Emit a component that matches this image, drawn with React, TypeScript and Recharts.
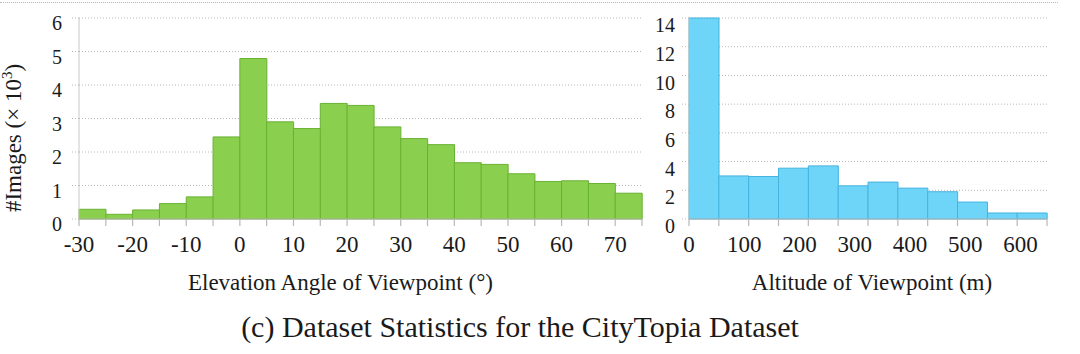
import { BarChart, Bar, XAxis, YAxis, CartesianGrid } from 'recharts';

// elevation angle histogram (bins of 5 degrees), counts in thousands
const elevStarts = [-30, -25, -20, -15, -10, -5, 0, 5, 10, 15, 20, 25, 30, 35, 40, 45, 50, 55, 60, 65, 70];
const elevCounts = [0.29, 0.14, 0.27, 0.46, 0.66, 2.45, 4.79, 2.9, 2.7, 3.45, 3.39, 2.75, 2.4, 2.22, 1.68, 1.63, 1.35, 1.12, 1.14, 1.06, 0.77];
const elevEdges = [-30, -25, -20, -15, -10, -5, 0, 5, 10, 15, 20, 25, 30, 35, 40, 45, 50, 55, 60, 65, 70, 75];
const elevLabels = [-30, -20, -10, 0, 10, 20, 30, 40, 50, 60, 70];
const elevYTicks = [0, 1, 2, 3, 4, 5, 6];

// altitude histogram (bins of ~54 m), counts in thousands
const altStarts = [0, 54, 108, 162, 216, 270, 324, 378, 432, 486, 540, 594];
const altCounts = [14, 3.0, 2.96, 3.54, 3.7, 2.31, 2.57, 2.15, 1.9, 1.18, 0.42, 0.42];
const altEdges = [0, 54, 108, 162, 216, 270, 324, 378, 432, 486, 540, 594, 648];
const altLabels = [0, 100, 200, 300, 400, 500, 600];
const altYTicks = [0, 2, 4, 6, 8, 10, 12, 14];

const FONT = '"Liberation Serif", "DejaVu Serif", serif';
const TEXT = '#1a1a1a';
const GRID = '#b8b8b8';

const elevData = elevStarts.map((s, i) => ({ bin: String(s), start: s, count: elevCounts[i] }));
const altData = altStarts.map((s, i) => ({ bin: String(s), start: s, count: altCounts[i] }));

// one numeric axis carries both the bin-edge tick marks and the round labels
function makeTick(edges: number[], labels: number[]) {
  return (props: any) => {
    const { x, y, payload } = props;
    const v = payload.value;
    return (
      <g>
        {edges.includes(v) && <line x1={x} x2={x} y1={y} y2={y + 7} stroke={GRID} strokeWidth={1.2} />}
        {labels.includes(v) && (
          <text x={x} y={y + 33} textAnchor="middle" fontFamily={FONT} fontSize={23} fill={TEXT}>
            {v}
          </text>
        )}
      </g>
    );
  };
}

function axisTitle(text: string, dx: number) {
  return (props: any) => {
    const vb = props.viewBox;
    return (
      <text x={vb.x + vb.width / 2 + dx} y={290} textAnchor="middle" fontFamily={FONT} fontSize={23} fill={TEXT}>
        {text}
      </text>
    );
  };
}

const yTitle = () => {
  const cx = 21;
  const cy = 138;
  return (
    <text x={cx} y={cy} transform={`rotate(-90 ${cx} ${cy})`} textAnchor="middle" fontFamily={FONT} fontSize={23} fill={TEXT}>
      #Images (× 10<tspan dy={-9} fontSize={15}>3</tspan>
      <tspan dy={9}>)</tspan>
    </text>
  );
};

const uniq = (a: number[]) => Array.from(new Set(a)).sort((p, q) => p - q);

export default function App() {
  return (
    <div style={{ position: 'absolute', left: 0, top: 0, width: 1080, height: 354, background: '#fff', overflow: 'hidden' }}>
      <div style={{ position: 'absolute', left: 0, top: 2, width: 1058, borderTop: `1px dotted ${GRID}` }} />

      <div style={{ position: 'absolute', left: 0, top: 0 }}>
        <BarChart width={650} height={300} data={elevData} margin={{ top: 18, right: 8, bottom: 0, left: 0 }} barCategoryGap={0}>
          <CartesianGrid horizontal vertical={false} stroke={GRID} strokeDasharray="1 2" />
          <XAxis
            xAxisId="num"
            dataKey="start"
            type="number"
            domain={[-30, 75]}
            allowDataOverflow
            ticks={uniq([...elevEdges, ...elevLabels])}
            interval={0}
            tick={makeTick(elevEdges, elevLabels)}
            tickLine={false}
            tickSize={0}
            tickMargin={0}
            height={81}
            axisLine={{ stroke: GRID }}
            label={{ content: axisTitle('Elevation Angle of Viewpoint (°)', -20) }}
          />
          <XAxis xAxisId="bins" dataKey="bin" type="category" hide height={0} />
          <YAxis
            domain={[0, 6]}
            ticks={elevYTicks}
            interval={0}
            width={79}
            tickSize={7}
            tickMargin={10}
            tickLine={{ stroke: GRID, strokeDasharray: '1 2' }}
            axisLine={{ stroke: '#c8c8c8' }}
            tick={{ fontFamily: FONT, fontSize: 20, fill: TEXT, dy: 5 }}
            label={{ content: yTitle }}
          />
          <Bar xAxisId="bins" dataKey="count" fill="#8bcf4f" stroke="#68b232" strokeWidth={1} isAnimationActive={false} />
        </BarChart>
      </div>

      <div style={{ position: 'absolute', left: 640, top: 0 }}>
        <BarChart width={440} height={300} data={altData} margin={{ top: 18, right: 33, bottom: 0, left: 0 }} barCategoryGap={0}>
          <CartesianGrid horizontal vertical={false} stroke={GRID} strokeDasharray="1 2" />
          <XAxis
            xAxisId="num"
            dataKey="start"
            type="number"
            domain={[0, 648]}
            allowDataOverflow
            ticks={uniq([...altEdges, ...altLabels])}
            interval={0}
            tick={makeTick(altEdges, altLabels)}
            tickLine={false}
            tickSize={0}
            tickMargin={0}
            height={81}
            axisLine={{ stroke: GRID }}
            label={{ content: axisTitle('Altitude of Viewpoint (m)', 4) }}
          />
          <XAxis xAxisId="bins" dataKey="bin" type="category" hide height={0} />
          <YAxis
            domain={[0, 14]}
            ticks={altYTicks}
            interval={0}
            width={49}
            tickSize={7}
            tickMargin={7}
            tickLine={{ stroke: GRID, strokeDasharray: '1 2' }}
            axisLine={{ stroke: '#c8c8c8' }}
            tick={{ fontFamily: FONT, fontSize: 20, fill: TEXT, dy: 7 }}
          />
          <Bar xAxisId="bins" dataKey="count" fill="#6fd5f8" stroke="#45b2df" strokeWidth={1} isAnimationActive={false} />
        </BarChart>
      </div>

      <div
        style={{
          position: 'absolute',
          left: 0,
          top: 310,
          width: 1040,
          textAlign: 'center',
          fontFamily: FONT,
          fontSize: 30,
          lineHeight: '34px',
          color: TEXT,
        }}
      >
        (c) Dataset Statistics for the CityTopia Dataset
      </div>
    </div>
  );
}
